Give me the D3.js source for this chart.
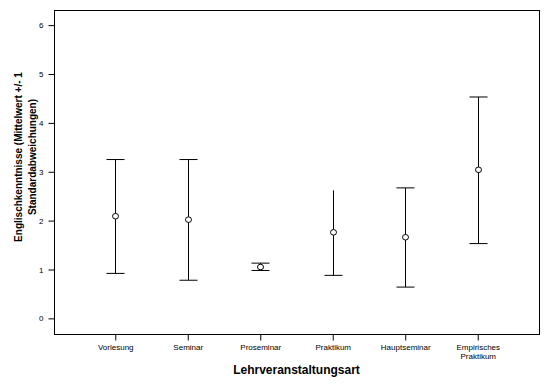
<!DOCTYPE html>
<html>
<head>
<meta charset="utf-8">
<script src="https://d3js.org/d3.v7.min.js"></script>
<style>
  body { margin: 0; background: #fff; }
  text { font-family: "Liberation Sans", Arial, sans-serif; fill: #000; }
</style>
</head>
<body>
<div id="chart"></div>
<script>
// values
const categories = ["Vorlesung", "Seminar", "Proseminar", "Praktikum", "Hauptseminar", "Empirisches\nPraktikum"];
const means = [2.09, 2.02, 1.05, 1.76, 1.66, 3.04];
const upper = [3.25, 3.25, 1.13, 2.62, 2.67, 4.53];
const lower = [0.92, 0.78, 0.98, 0.88, 0.64, 1.53];
const topCap = [true, true, true, false, true, true];
const yTicks = [0, 1, 2, 3, 4, 5, 6];

const W = 550, H = 388;
const mLeft = 54, mRight = 539, mTop = 10, mBottom = 334;

const svg = d3.select("#chart").append("svg")
  .attr("width", W).attr("height", H);

const x = d3.scalePoint().domain(categories).range([mLeft, mRight]).padding(0.845);
const y = d3.scaleLinear().domain([-0.32, 6.31]).range([mBottom, mTop]);

// frame
svg.append("rect")
  .attr("x", mLeft + 0.5).attr("y", mTop + 0.5)
  .attr("width", mRight - mLeft).attr("height", mBottom - mTop)
  .attr("fill", "none").attr("stroke", "#000");

// y axis
const ya = svg.append("g").attr("transform", `translate(${mLeft + 0.5},0)`)
  .call(d3.axisLeft(y).tickValues(yTicks).tickSize(6).tickPadding(5).tickFormat(d3.format("d")));
ya.select(".domain").remove();
ya.selectAll("text").style("font-size", "8px").attr("font-family", null);
ya.selectAll("line").attr("stroke", "#000");

// x axis
const xa = svg.append("g").attr("transform", `translate(0,${mBottom + 0.5})`)
  .call(d3.axisBottom(x).tickSize(6).tickPadding(4));
xa.select(".domain").remove();
xa.selectAll("line").attr("stroke", "#000");
xa.selectAll("text").attr("font-family", null).style("font-size", "8px")
  .each(function(d) {
    const t = d3.select(this), parts = d.split("\n");
    t.text(null);
    parts.forEach((p, i) => t.append("tspan").attr("x", 0).attr("dy", i ? "1.1em" : "0.71em").text(p));
  });

// error bars
const g = svg.append("g").attr("stroke", "#000").attr("stroke-width", 1);
categories.forEach((c, i) => {
  const cx = Math.round(x(c)) + 0.5;
  g.append("line").attr("x1", cx).attr("x2", cx).attr("y1", y(upper[i])).attr("y2", y(lower[i]));
  if (topCap[i]) g.append("line").attr("x1", cx - 9).attr("x2", cx + 9).attr("y1", y(upper[i])).attr("y2", y(upper[i]));
  g.append("line").attr("x1", cx - 9).attr("x2", cx + 9).attr("y1", y(lower[i])).attr("y2", y(lower[i]));
  g.append("ellipse").attr("cx", cx).attr("cy", y(means[i])).attr("rx", 3).attr("ry", 2.8)
    .attr("fill", "#fff");
});

// axis titles
svg.append("text")
  .attr("x", (mLeft + mRight) / 2).attr("y", 374)
  .attr("text-anchor", "middle")
  .style("font-size", "12px").style("font-weight", "bold")
  .text("Lehrveranstaltungsart");

const yt = svg.append("text")
  .attr("transform", "translate(22,157) rotate(-90)")
  .attr("text-anchor", "middle")
  .style("font-size", "10px").style("font-weight", "bold");
yt.append("tspan").attr("x", 0).attr("dy", 0).text("Englischkenntnisse (Mittelwert +/- 1");
yt.append("tspan").attr("x", 0).attr("dy", "1.35em").text("Standardabweichungen)");
</script>
</body>
</html>
